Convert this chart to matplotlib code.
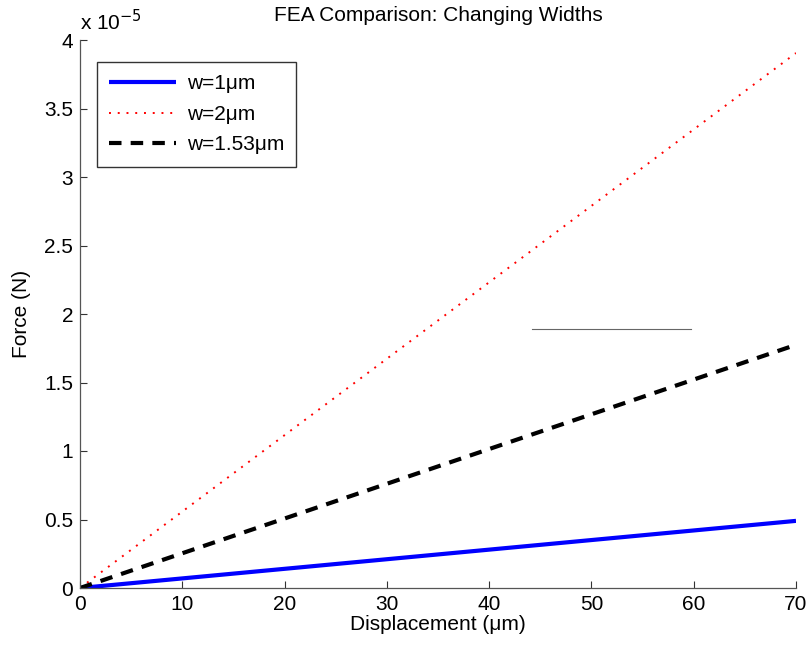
import matplotlib
matplotlib.use("Agg")
import matplotlib.pyplot as plt
from matplotlib.ticker import FuncFormatter

plt.rcParams['font.family'] = ['Liberation Sans', 'DejaVu Sans']

# Data (displacement in um, force in N)
disp = [0, 70]
force_w1 = [0, 0.49e-5]
force_w2 = [0, 3.905e-5]
force_w153 = [0, 1.775e-5]
labels = ['w=1μm', 'w=2μm', 'w=1.53μm']
ref_line_x = [44.2, 59.7]
ref_line_y = [1.89e-5, 1.89e-5]

xticks = [0, 10, 20, 30, 40, 50, 60, 70]
yticks = [0, 0.5e-5, 1e-5, 1.5e-5, 2e-5, 2.5e-5, 3e-5, 3.5e-5, 4e-5]

FS = 15

fig = plt.figure(figsize=(8.09, 6.47), dpi=100)
ax = fig.add_axes([80/809, 59/647, (796-80)/809, (588-40)/647])

ax.plot(disp, force_w1, color='#0000ff', lw=3, solid_capstyle='butt', label=labels[0])
ax.plot(disp, force_w2, color='#ff0000', lw=1.4, linestyle=(0, (1, 3.5)), label=labels[1])
ax.plot(disp, force_w153, color='black', lw=3, linestyle=(0, (3, 2.2)), label=labels[2])
ax.plot(ref_line_x, ref_line_y, color='#666666', lw=0.8)

ax.set_xlim(0, 70)
ax.set_ylim(0, 4e-5)
ax.set_xticks(xticks)
ax.set_yticks(yticks)
ax.yaxis.set_major_formatter(FuncFormatter(lambda v, p: ('%g' % round(v * 1e5, 3))))
ax.tick_params(direction='in', length=5, width=0.8, labelsize=FS, color='#333333', pad=5)
for s in ['top', 'right']:
    ax.spines[s].set_visible(False)
for s in ['left', 'bottom']:
    ax.spines[s].set_color('#555555')
    ax.spines[s].set_linewidth(0.9)

ax.set_xlabel('Displacement (μm)', fontsize=FS, labelpad=1)
ax.set_ylabel('Force (N)', fontsize=FS, labelpad=9)
ax.set_title('FEA Comparison: Changing Widths', fontsize=FS, pad=14)
ax.text(0, 1.01, r'x 10$^{-5}$', transform=ax.transAxes, fontsize=FS, va='bottom', ha='left')

leg = ax.legend(loc='upper left', bbox_to_anchor=(0.0237, 0.960), borderaxespad=0, fontsize=FS,
                frameon=True, fancybox=False, edgecolor='black', handlelength=3.2, borderpad=0.6,
                labelspacing=0.55, handletextpad=0.5)
leg.get_frame().set_linewidth(1.0)

fig.savefig('out.png', dpi=100)
